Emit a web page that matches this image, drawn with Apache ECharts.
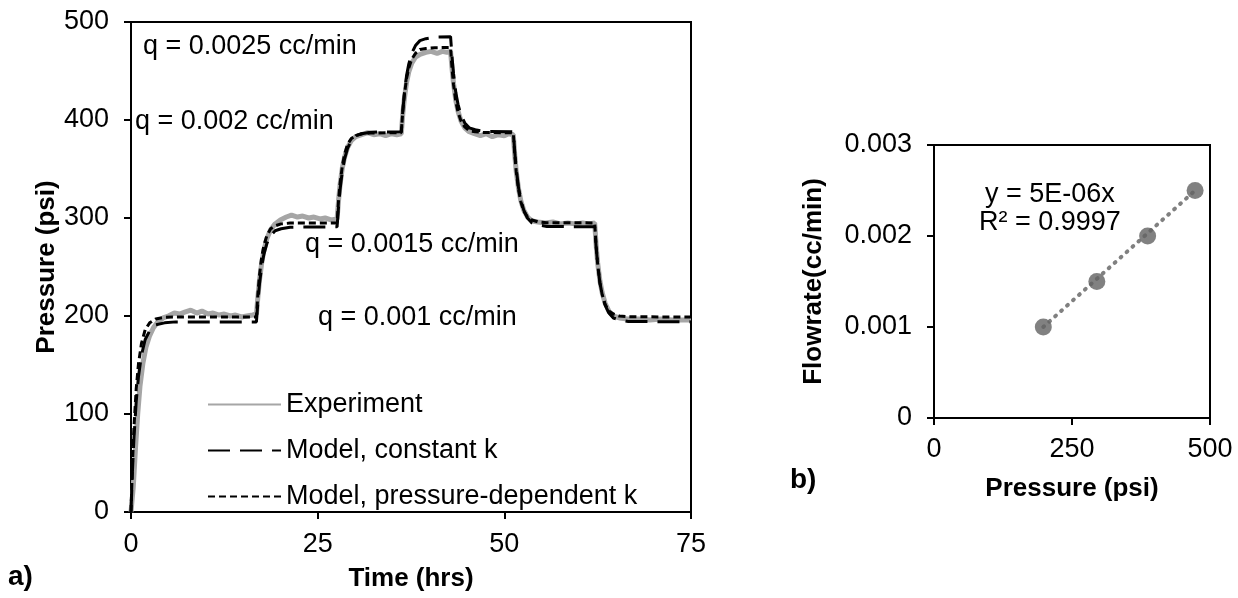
<!DOCTYPE html>
<html>
<head>
<meta charset="utf-8">
<script src="https://cdn.jsdelivr.net/npm/echarts@6/dist/echarts.min.js"></script>
<style>
  html, body { margin: 0; padding: 0; background: #fff; }
  #main { width: 1238px; height: 598px; }
</style>
</head>
<body>
<div id="main"></div>
<script>
// a) pressure vs time, [hrs, psi]
var experiment = [
  [0, 0], [0.3, 25], [0.6, 65], [0.9, 100], [1.2, 128], [1.6, 152], [2.0, 168], [2.5, 180], [3.0, 188], [3.6, 194],
  [4.3, 198], [5.0, 200], [5.8, 203], [6.5, 202], [7.2, 204], [8.0, 206], [8.8, 203], [9.5, 205], [10.3, 202], [11.0, 203],
  [11.8, 201], [12.5, 202], [13.3, 200], [14.0, 201], [14.8, 199], [15.5, 200], [16.3, 201], [16.8, 202],
  [17.0, 220], [17.2, 236], [17.5, 254], [17.8, 267], [18.2, 279], [18.7, 288], [19.3, 294], [20.0, 298], [20.8, 301],
  [21.5, 303], [22.3, 301], [23.0, 302], [23.8, 300], [24.5, 301], [25.3, 299], [26.0, 300], [26.8, 298], [27.6, 299],
  [27.8, 318], [28.0, 334], [28.3, 351], [28.6, 362], [29.0, 372], [29.5, 379], [30.1, 383], [30.9, 385], [31.7, 387],
  [32.5, 385], [33.3, 386], [34.1, 384], [34.9, 386], [35.6, 385], [36.2, 386],
  [36.4, 406], [36.6, 421], [36.9, 438], [37.2, 449], [37.6, 458], [38.1, 464], [38.7, 467], [39.5, 469], [40.2, 470],
  [41.0, 468], [41.7, 470], [42.3, 469], [42.8, 470],
  [43.0, 452], [43.2, 437], [43.5, 420], [43.8, 409], [44.2, 399], [44.7, 392], [45.3, 388], [46.0, 386], [46.8, 384],
  [47.6, 386], [48.4, 383], [49.2, 385], [50.0, 384], [50.6, 386], [51.2, 385],
  [51.4, 364], [51.6, 347], [51.9, 330], [52.2, 318], [52.6, 308], [53.1, 301], [53.7, 297], [54.5, 296], [55.5, 295],
  [56.5, 296], [57.5, 294], [58.5, 295], [59.5, 294], [60.5, 295], [61.3, 294], [62.1, 295],
  [62.3, 272], [62.5, 254], [62.8, 236], [63.1, 224], [63.5, 213], [64.0, 205], [64.6, 200], [65.4, 198], [66.5, 197],
  [68, 197], [69.5, 196], [71, 197], [72.5, 196], [74, 196], [75, 196]
];

var modelConstK = [
  [0, 0], [0.2, 43], [0.4, 76], [0.7, 113], [1.0, 138], [1.4, 160], [1.9, 176], [2.5, 185], [3.3, 191], [4.5, 193], [6, 194], [16.8, 194],
  [17.0, 215], [17.2, 232], [17.5, 251], [17.8, 263], [18.2, 274], [18.7, 282], [19.3, 287], [20.1, 289], [21.3, 290.6], [27.6, 291],
  [27.8, 312], [28.0, 329], [28.3, 348], [28.6, 360], [29.0, 371], [29.5, 379], [30.1, 384], [30.9, 386], [32.1, 387.6], [36.2, 388],
  [36.4, 409], [36.6, 426], [36.9, 445], [37.2, 457], [37.6, 468], [38.1, 476], [38.7, 481], [39.5, 483], [40.7, 484.6], [42.8, 485],
  [43.0, 464], [43.2, 447], [43.5, 428], [43.8, 416], [44.2, 405], [44.7, 397], [45.3, 392], [46.1, 390], [47.3, 388.4], [51.2, 388],
  [51.4, 367], [51.6, 350], [51.9, 331], [52.2, 319], [52.6, 308], [53.1, 300], [53.7, 295], [54.5, 293], [55.7, 291.4], [62.1, 291],
  [62.3, 270], [62.5, 253], [62.8, 234], [63.1, 222], [63.5, 211], [64.0, 203], [64.6, 198], [65.4, 196], [66.6, 194.4], [75, 194]
];

var modelPressK = [
  [0, 0], [0.2, 50], [0.4, 87], [0.7, 126], [1.0, 151], [1.4, 172], [1.9, 186], [2.5, 193], [3.3, 197], [4.5, 198.6], [6, 199], [16.8, 199],
  [17.0, 223], [17.2, 241], [17.5, 260], [17.8, 272], [18.2, 282], [18.7, 289], [19.3, 292], [20.1, 294], [21.3, 294.8], [27.6, 295],
  [27.8, 318], [28.0, 335], [28.3, 353], [28.6, 365], [29.0, 375], [29.5, 381], [30.1, 384], [30.9, 386], [32.1, 386.8], [36.2, 387],
  [36.4, 409], [36.6, 425], [36.9, 442], [37.2, 453], [37.6, 462], [38.1, 468], [38.7, 472], [39.5, 473], [40.7, 473.8], [42.8, 474],
  [43.0, 452], [43.2, 436], [43.5, 419], [43.8, 408], [44.2, 399], [44.7, 393], [45.3, 389], [46.1, 388], [47.3, 387.2], [51.2, 387],
  [51.4, 364], [51.6, 347], [51.9, 329], [52.2, 317], [52.6, 307], [53.1, 301], [53.7, 298], [54.5, 296], [55.7, 295.2], [62.1, 295],
  [62.3, 271], [62.5, 253], [62.8, 234], [63.1, 222], [63.5, 212], [64.0, 205], [64.6, 202], [65.4, 200], [66.6, 199.2], [75, 199]
];

// b) flowrate vs steady pressure
var pressurePts = [198, 295, 387, 473];
var flowratePts = [0.001, 0.0015, 0.002, 0.0025];
var trendX = [198, 473];
var trendY = [0.001, 0.0025];

var FONT = "'Liberation Sans', Arial, sans-serif";
var FS = 27;

var chart = echarts.init(document.getElementById('main'), null, { renderer: 'canvas' });

function axisBase(extra, labelMargin) {
    var a = {
        axisLine: { show: true, onZero: false, lineStyle: { color: '#000', width: 2 } },
        axisTick: { show: true, inside: false, length: 7, lineStyle: { color: '#000', width: 2 } },
        splitLine: { show: false },
        axisLabel: { color: '#000', fontSize: FS, fontFamily: FONT, margin: labelMargin },
        nameLocation: 'middle',
        nameTextStyle: { color: '#000', fontSize: 26, fontWeight: 'bold', fontFamily: FONT }
    };
    for (var k in extra) a[k] = extra[k];
    return a;
}

var option = {
    animation: false,
    backgroundColor: '#fff',
    grid: [
        { left: 131, top: 22, width: 560, height: 490, show: true, borderColor: '#000', borderWidth: 2, containLabel: false },
        { left: 934, top: 145, width: 276, height: 273, show: true, borderColor: '#000', borderWidth: 2, containLabel: false }
    ],
    xAxis: [
        axisBase({ gridIndex: 0, type: 'value', min: 0, max: 75, interval: 25, name: 'Time (hrs)', nameGap: 54 }, 19),
        axisBase({ gridIndex: 1, type: 'value', min: 0, max: 500, interval: 250, name: 'Pressure (psi)', nameGap: 58 }, 18)
    ],
    yAxis: [
        axisBase({ gridIndex: 0, type: 'value', min: 0, max: 500, interval: 100, name: 'Pressure (psi)', nameGap: 68 }, 22),
        axisBase({
            gridIndex: 1, type: 'value', min: 0, max: 0.003, interval: 0.001, name: 'Flowrate(cc/min)', nameGap: 107,
            axisLabel: {
                color: '#000', fontSize: FS, fontFamily: FONT, margin: 22,
                formatter: function (v) { return v === 0 ? '0' : v.toFixed(3); }
            }
        }, 22)
    ],
    legend: {
        orient: 'vertical',
        left: 202,
        top: 386,
        itemWidth: 73,
        itemHeight: 14,
        itemGap: 19,
        itemStyle: { opacity: 0 },
        textStyle: { color: '#000', fontSize: FS, fontFamily: FONT },
        data: ['Experiment', 'Model, constant k', 'Model, pressure-dependent k']
    },
    series: [
        {
            name: 'Experiment', type: 'line', xAxisIndex: 0, yAxisIndex: 0,
            data: experiment, symbol: 'none', smooth: false, z: 2,
            lineStyle: { color: '#a6a6a6', width: 5 }, itemStyle: { color: '#a6a6a6' }
        },
        {
            name: 'Model, constant k', type: 'line', xAxisIndex: 0, yAxisIndex: 0,
            data: modelConstK, symbol: 'none', smooth: false, z: 3,
            lineStyle: { color: '#000', width: 3, type: [22, 10] }, itemStyle: { color: '#000' }
        },
        {
            name: 'Model, pressure-dependent k', type: 'line', xAxisIndex: 0, yAxisIndex: 0,
            data: modelPressK, symbol: 'none', smooth: false, z: 4,
            lineStyle: { color: '#000', width: 3, type: [7, 4] }, itemStyle: { color: '#000' }
        },
        {
            name: 'trend', type: 'line', xAxisIndex: 1, yAxisIndex: 1,
            data: trendX.map(function (x, i) { return [x, trendY[i]]; }),
            symbol: 'none', z: 2,
            lineStyle: { color: '#808080', width: 4, type: [1, 7], cap: 'round' }
        },
        {
            name: 'points', type: 'scatter', xAxisIndex: 1, yAxisIndex: 1,
            data: pressurePts.map(function (x, i) { return [x, flowratePts[i]]; }),
            symbol: 'circle', symbolSize: 17, z: 3,
            itemStyle: { color: '#616161' }
        }
    ],
    graphic: [
        { type: 'text', left: 143, top: 33, style: { text: 'q = 0.0025 cc/min', fontSize: FS, fontFamily: FONT, fill: '#000' } },
        { type: 'text', left: 135, top: 108, style: { text: 'q = 0.002 cc/min', fontSize: FS, fontFamily: FONT, fill: '#000' } },
        { type: 'text', left: 305, top: 231, style: { text: 'q = 0.0015 cc/min', fontSize: FS, fontFamily: FONT, fill: '#000' } },
        { type: 'text', left: 318, top: 304, style: { text: 'q = 0.001 cc/min', fontSize: FS, fontFamily: FONT, fill: '#000' } },
        { type: 'text', left: 985, top: 181, style: { text: 'y = 5E-06x', fontSize: FS, fontFamily: FONT, fill: '#000' } },
        { type: 'text', left: 979, top: 209, style: { text: 'R² = 0.9997', fontSize: FS, fontFamily: FONT, fill: '#000' } },
        { type: 'text', left: 8, top: 563, style: { text: 'a)', fontSize: 28, fontWeight: 'bold', fontFamily: FONT, fill: '#000' } },
        { type: 'text', left: 790, top: 466, style: { text: 'b)', fontSize: 28, fontWeight: 'bold', fontFamily: FONT, fill: '#000' } }
    ]
};

chart.setOption(option);
</script>
</body>
</html>
